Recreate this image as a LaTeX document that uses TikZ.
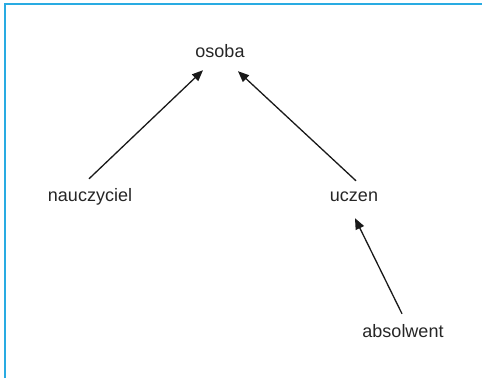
\documentclass[tikz,border=0pt]{standalone}
\usepackage{fontspec}
\setmainfont{Liberation Sans}
\usetikzlibrary{calc,arrows.meta}
\definecolor{framec}{RGB}{41,171,226}
\tikzset{%
  klasa/.style={inner sep=0pt,anchor=base,text height=13pt,text depth=4pt,
    font=\fontsize{18}{21}\selectfont,text=black!85},
  dziedz/.style={-{Triangle[length=11pt,width=9pt]},line width=1.3pt,black!90}
}
\begin{document}
\begin{tikzpicture}[x=1pt,y=1pt]
    \useasboundingbox (0,0) rectangle (482,378);
    \draw[framec,line width=2pt] (5,0) -- (5,374) -- (482,374);
    %
    \node[klasa] (osoba) at (220,320) {osoba};
    \node[klasa] (nauczyciel) at (90,176) {nauczyciel};
    \node[klasa] (uczen) at (354,176) {uczen};
    \node[klasa] (absolwent) at (403,41) {absolwent};
    %
    \draw[dziedz] ($(nauczyciel.north)+(-1,10)$) -- ($(osoba.south)+(-17,-8)$);
    \draw[dziedz] ($(uczen.north)+(2,8)$) -- ($(osoba.south)+(18,-9)$);
    \draw[dziedz] ($(absolwent.north)+(-1,10)$) -- ($(uczen.south)+(1,-12)$);
  \end{tikzpicture}
\end{document}
